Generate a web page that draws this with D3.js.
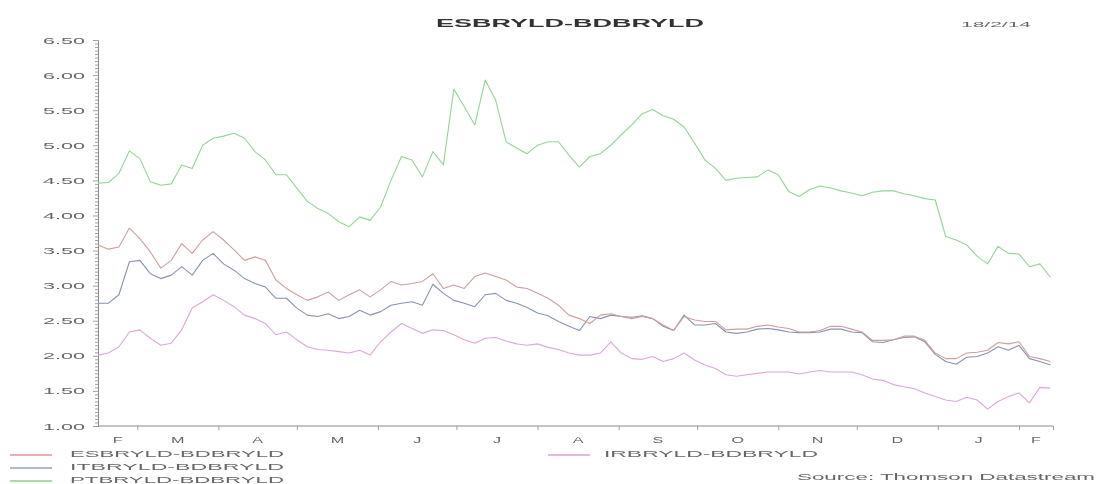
<!DOCTYPE html>
<html><head><meta charset="utf-8">
<script src="https://cdn.jsdelivr.net/npm/d3@7"></script>
<style>html,body{margin:0;padding:0;background:#fff;}svg{display:block;}</style>
</head><body>
<script>
// ---- data (sampled every 4 days from 14 Feb 2013) ----
const startDate = "2013-02-14";
const stepDays = 4;
const seriesNames = ["ESBRYLD-BDBRYLD","ITBRYLD-BDBRYLD","PTBRYLD-BDBRYLD","IRBRYLD-BDBRYLD"];
const esValues = [3.58,3.52,3.55,3.82,3.67,3.48,3.25,3.36,3.60,3.46,3.65,3.77,3.65,3.51,3.36,3.41,3.36,3.08,2.96,2.87,2.79,2.84,2.91,2.79,2.87,2.94,2.84,2.94,3.06,3.01,3.03,3.06,3.17,2.96,3.01,2.96,3.13,3.18,3.13,3.08,2.98,2.96,2.89,2.82,2.72,2.58,2.53,2.46,2.58,2.60,2.56,2.53,2.56,2.53,2.44,2.36,2.56,2.51,2.49,2.49,2.37,2.38,2.38,2.42,2.44,2.41,2.39,2.34,2.34,2.36,2.42,2.42,2.38,2.34,2.22,2.22,2.23,2.28,2.28,2.22,2.04,1.96,1.96,2.04,2.05,2.08,2.19,2.17,2.20,1.99,1.96,1.92];
const itValues = [2.75,2.75,2.87,3.34,3.36,3.17,3.10,3.15,3.27,3.15,3.36,3.46,3.31,3.22,3.10,3.03,2.98,2.82,2.82,2.68,2.58,2.56,2.60,2.53,2.56,2.65,2.58,2.63,2.72,2.75,2.77,2.72,3.02,2.89,2.79,2.75,2.70,2.87,2.89,2.79,2.75,2.69,2.61,2.57,2.49,2.42,2.36,2.56,2.53,2.58,2.56,2.55,2.57,2.53,2.42,2.36,2.58,2.44,2.44,2.46,2.34,2.32,2.34,2.38,2.39,2.37,2.34,2.33,2.33,2.34,2.38,2.38,2.34,2.33,2.20,2.19,2.23,2.26,2.27,2.20,2.02,1.92,1.88,1.98,1.99,2.04,2.13,2.08,2.15,1.96,1.92,1.87];
const ptValues = [4.46,4.47,4.60,4.92,4.81,4.48,4.43,4.45,4.72,4.67,5.00,5.10,5.13,5.17,5.10,4.91,4.79,4.58,4.58,4.39,4.20,4.10,4.03,3.91,3.84,3.98,3.93,4.12,4.50,4.84,4.79,4.55,4.91,4.72,5.80,5.55,5.29,5.93,5.64,5.05,4.96,4.88,5.00,5.05,5.05,4.86,4.69,4.84,4.88,5.00,5.15,5.29,5.45,5.51,5.42,5.37,5.26,5.03,4.79,4.67,4.50,4.53,4.54,4.55,4.65,4.58,4.34,4.27,4.37,4.42,4.39,4.35,4.32,4.28,4.33,4.35,4.35,4.31,4.28,4.24,4.22,3.70,3.65,3.58,3.42,3.31,3.56,3.46,3.45,3.27,3.31,3.12];
const irValues = [2.01,2.04,2.13,2.34,2.37,2.25,2.15,2.18,2.37,2.68,2.77,2.87,2.79,2.70,2.58,2.53,2.46,2.30,2.34,2.23,2.13,2.09,2.08,2.06,2.04,2.08,2.01,2.20,2.34,2.46,2.39,2.32,2.37,2.36,2.30,2.23,2.18,2.25,2.26,2.21,2.17,2.15,2.17,2.12,2.09,2.04,2.01,2.01,2.04,2.20,2.04,1.96,1.95,1.99,1.92,1.96,2.04,1.94,1.87,1.82,1.73,1.71,1.73,1.75,1.77,1.77,1.77,1.74,1.77,1.79,1.77,1.77,1.77,1.73,1.67,1.65,1.59,1.56,1.53,1.47,1.42,1.37,1.35,1.41,1.37,1.24,1.35,1.42,1.47,1.33,1.55,1.54];
const monthLabels = ["F","M","A","M","J","J","A","S","O","N","D","J","F"];
const yTickLabels = ["6.50","6.00","5.50","5.00","4.50","4.00","3.50","3.00","2.50","2.00","1.50","1.00"];
const titleText = "ESBRYLD-BDBRYLD";
const dateText = "18/2/14";
const sourceText = "Source: Thomson Datastream";

// ---- layout ----
const W = 1117, H = 484;
const x0 = 98, x1 = 1053, yTop = 40, yBot = 426;
const colors = {es:"#d09e9e", it:"#8794b0", pt:"#93d593", ir:"#dca6dd"};
const legendColors = {es:"#e6b0b0", it:"#afbad0", pt:"#a6dfa6", ir:"#e6b6e6"};
const textColor = "#666";

const parse = d3.timeParse("%Y-%m-%d");
const d0 = parse(startDate);
const dates = esValues.map((_, i) => d3.timeDay.offset(d0, i * stepDays));

const x = d3.scaleTime().domain([d0, parse("2014-02-14")]).range([x0, x1]);
const y = d3.scaleLinear().domain([1.0, 6.5]).range([yBot, yTop]);

const svg = d3.select("body").append("svg").attr("width", W).attr("height", H)
  .style("font-family", "'Liberation Sans', Arial, sans-serif");
const defs = svg.append("defs");
defs.append("filter").attr("id","soft").attr("x","-5%").attr("y","-5%").attr("width","110%").attr("height","110%")
  .append("feGaussianBlur").attr("stdDeviation", 0.45);
const g = svg.append("g").attr("filter","url(#soft)");

function stretch(sel, k) {
  sel.each(function(){ const w = this.getComputedTextLength(); d3.select(this).attr("textLength", w * k).attr("lengthAdjust","spacingAndGlyphs"); });
}

// title & date
g.append("text").attr("x", 570).attr("y", 27).attr("text-anchor","middle")
  .attr("font-size", 11).attr("font-weight","bold").attr("fill","#333")
  .attr("textLength", 268).attr("lengthAdjust","spacingAndGlyphs").text(titleText);
g.append("text").attr("x", 996).attr("y", 27).attr("text-anchor","middle")
  .attr("font-size", 8).attr("fill", textColor)
  .attr("textLength", 70).attr("lengthAdjust","spacingAndGlyphs").text(dateText);

// y axis
const yAxis = d3.axisLeft(y).tickValues(d3.range(0, 111).map(i => +(1 + i * 0.05).toFixed(2)))
  .tickSize(3).tickFormat("");
const ya = g.append("g").attr("transform", `translate(${x0},0)`).call(yAxis);
ya.select(".domain").attr("stroke","#8a8a8a");
ya.selectAll(".tick line").attr("stroke","#a0a0a0").attr("x2", d => (Math.round(d*100) % 50 === 0) ? -5 : -3);
g.append("g").selectAll("text").data(yTickLabels).join("text")
  .attr("x", 85).attr("y", d => y(+d) + 3.5).attr("text-anchor","end")
  .attr("font-size", 8.5).attr("fill", textColor)
  .attr("textLength", 42).attr("lengthAdjust","spacingAndGlyphs").text(d => d);

// x axis
const monthStarts = d3.timeMonth.range(parse("2013-03-01"), parse("2014-02-14"));
const xa = g.append("g").attr("transform", `translate(0,${yBot})`)
  .call(d3.axisBottom(x).tickValues(monthStarts.concat([x.domain()[1]])).tickSize(4).tickFormat(""));
xa.select(".domain").attr("stroke","#8a8a8a").attr("d", `M${x0},0H${x1}`);
xa.selectAll(".tick line").attr("stroke","#a0a0a0");
const monthMid = monthLabels.map((m, i) => {
  if (i === 0) return new Date((x.domain()[0].getTime() + monthStarts[0].getTime()) / 2);
  const s = monthStarts[i - 1];
  const e = i < monthStarts.length ? monthStarts[i] : x.domain()[1];
  return new Date((s.getTime() + e.getTime()) / 2);
});
const ml = g.append("g").selectAll("text").data(monthLabels).join("text")
  .attr("x", (d, i) => x(monthMid[i])).attr("y", 443).attr("text-anchor","middle")
  .attr("font-size", 8.5).attr("fill", textColor).text(d => d);
stretch(ml, 1.9);

// lines
const line = d3.line().x((d, i) => x(dates[i])).y(d => y(d));
const seriesList = [
  {key:"pt", values: ptValues},
  {key:"ir", values: irValues},
  {key:"it", values: itValues},
  {key:"es", values: esValues}
];
g.append("g").selectAll("path").data(seriesList).join("path")
  .attr("fill","none").attr("stroke", d => colors[d.key]).attr("stroke-width", 1.1)
  .attr("stroke-linejoin","round").attr("d", d => line(d.values));

// legend
const legend = [
  {key:"es", name: seriesNames[0], lx: 10, tx: 70, y: 453},
  {key:"it", name: seriesNames[1], lx: 10, tx: 70, y: 466},
  {key:"pt", name: seriesNames[2], lx: 10, tx: 70, y: 479},
  {key:"ir", name: seriesNames[3], lx: 548, tx: 604, y: 453}
];
const lg = g.append("g").selectAll("g").data(legend).join("g");
lg.append("line").attr("x1", d => d.lx).attr("x2", d => d.lx + 42)
  .attr("y1", d => d.y + 2).attr("y2", d => d.y + 2)
  .attr("stroke", d => legendColors[d.key]).attr("stroke-width", 2);
lg.append("text").attr("x", d => d.tx).attr("y", d => d.y + 3.5)
  .attr("font-size", 8.5).attr("fill", textColor)
  .attr("textLength", 214).attr("lengthAdjust","spacingAndGlyphs").text(d => d.name);

g.append("text").attr("x", 1095).attr("y", 480).attr("text-anchor","end")
  .attr("font-size", 8.5).attr("fill", textColor)
  .attr("textLength", 298).attr("lengthAdjust","spacingAndGlyphs").text(sourceText);
</script>
</body></html>
